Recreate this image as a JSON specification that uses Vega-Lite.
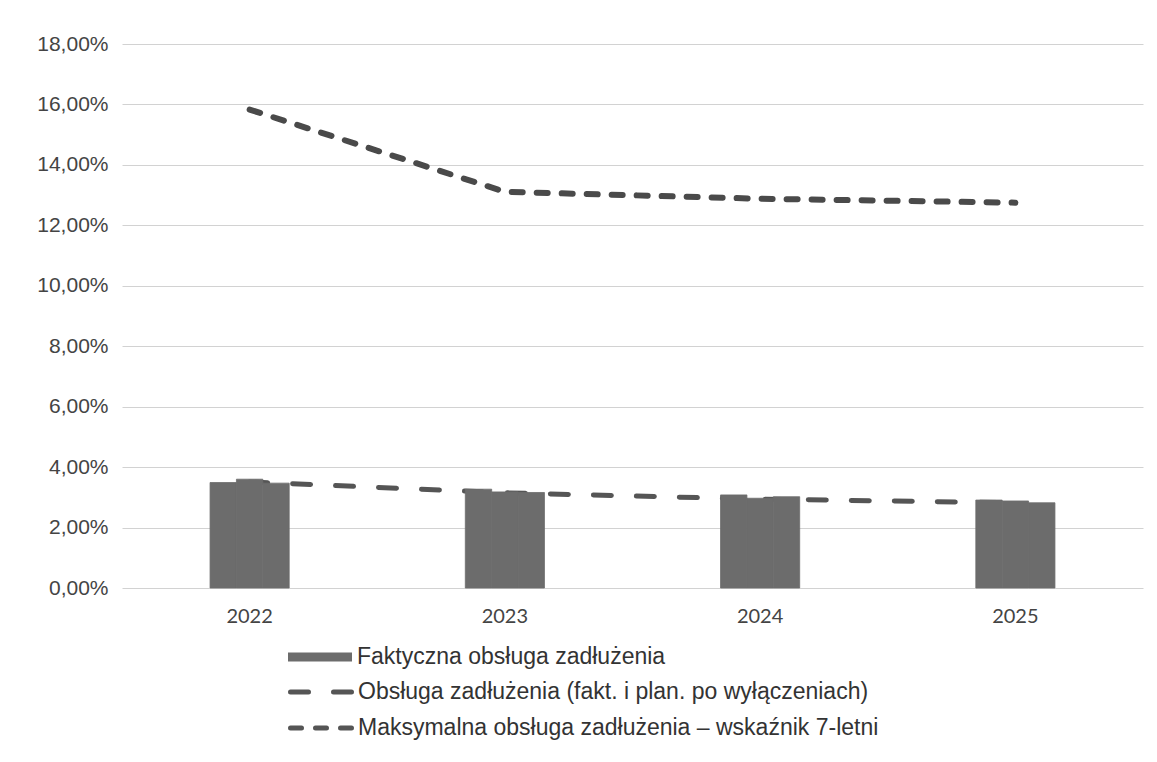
{
  "$schema": "https://vega.github.io/schema/vega-lite/v6.json",
  "width": 1021,
  "height": 544,
  "autosize": {"type": "none"},
  "padding": {"left": 122, "top": 44, "right": 14, "bottom": 174},
  "background": "white",
  "config": {"view": {"stroke": null}, "font": "Liberation Sans"},
  "datasets": {
    "bars": [
      {"year": "2022", "part": "a", "value": 3.49, "series": "Faktyczna obsługa zadłużenia"},
      {"year": "2022", "part": "b", "value": 3.60, "series": "Faktyczna obsługa zadłużenia"},
      {"year": "2022", "part": "c", "value": 3.47, "series": "Faktyczna obsługa zadłużenia"},
      {"year": "2023", "part": "a", "value": 3.27, "series": "Faktyczna obsługa zadłużenia"},
      {"year": "2023", "part": "b", "value": 3.18, "series": "Faktyczna obsługa zadłużenia"},
      {"year": "2023", "part": "c", "value": 3.16, "series": "Faktyczna obsługa zadłużenia"},
      {"year": "2024", "part": "a", "value": 3.08, "series": "Faktyczna obsługa zadłużenia"},
      {"year": "2024", "part": "b", "value": 2.97, "series": "Faktyczna obsługa zadłużenia"},
      {"year": "2024", "part": "c", "value": 3.02, "series": "Faktyczna obsługa zadłużenia"},
      {"year": "2025", "part": "a", "value": 2.91, "series": "Faktyczna obsługa zadłużenia"},
      {"year": "2025", "part": "b", "value": 2.88, "series": "Faktyczna obsługa zadłużenia"},
      {"year": "2025", "part": "c", "value": 2.82, "series": "Faktyczna obsługa zadłużenia"}
    ],
    "plan": [
      {"year": "2022", "value": 3.51, "series": "Obsługa zadłużenia (fakt. i plan. po wyłączeniach)"},
      {"year": "2023", "value": 3.15, "series": "Obsługa zadłużenia (fakt. i plan. po wyłączeniach)"},
      {"year": "2024", "value": 2.94, "series": "Obsługa zadłużenia (fakt. i plan. po wyłączeniach)"},
      {"year": "2025", "value": 2.82, "series": "Obsługa zadłużenia (fakt. i plan. po wyłączeniach)"}
    ],
    "maxi": [
      {"year": "2022", "value": 15.83, "series": "Maksymalna obsługa zadłużenia – wskaźnik 7-letni"},
      {"year": "2023", "value": 13.11, "series": "Maksymalna obsługa zadłużenia – wskaźnik 7-letni"},
      {"year": "2024", "value": 12.88, "series": "Maksymalna obsługa zadłużenia – wskaźnik 7-letni"},
      {"year": "2025", "value": 12.75, "series": "Maksymalna obsługa zadłużenia – wskaźnik 7-letni"}
    ]
  },
  "encoding": {
    "x": {
      "field": "year",
      "type": "nominal",
      "scale": {"paddingInner": 0.69, "paddingOuter": 0.345},
      "axis": {
        "title": null,
        "labelAngle": 0,
        "domain": false,
        "ticks": false,
        "labelFont": "Lato",
        "labelFontSize": 20,
        "labelColor": "#444444",
        "labelPadding": 18
      }
    },
    "y": {
      "field": "value",
      "type": "quantitative",
      "scale": {"domain": [0, 18], "nice": false},
      "axis": {
        "title": null,
        "values": [0, 2, 4, 6, 8, 10, 12, 14, 16, 18],
        "labelExpr": "replace(format(datum.value, '.2f'), '.', ',') + '%'",
        "domain": false,
        "ticks": false,
        "grid": true,
        "gridColor": "#d2d2d2",
        "gridWidth": 1,
        "labelFont": "Liberation Sans",
        "labelFontSize": 21,
        "labelColor": "#444444",
        "labelPadding": 14
      }
    }
  },
  "layer": [
    {
      "data": {"name": "plan"},
      "mark": {"type": "line", "strokeWidth": 5, "strokeCap": "round", "color": "#555555"},
      "encoding": {
        "strokeDash": {
          "field": "series",
          "type": "nominal",
          "scale": {
            "domain": ["Obsługa zadłużenia (fakt. i plan. po wyłączeniach)", "Maksymalna obsługa zadłużenia – wskaźnik 7-letni"],
            "range": [[18, 25], [11, 14]]
          },
          "legend": {
            "orient": "none",
            "legendX": 166,
            "legendY": 637,
            "direction": "vertical",
            "title": null,
            "padding": 0,
            "symbolType": "stroke",
            "symbolSize": 4096,
            "symbolStrokeWidth": 5,
            "symbolStrokeColor": "#555555",
            "clipHeight": 22,
            "rowPadding": 13,
            "labelOffset": 1,
            "labelFont": "Liberation Sans",
            "labelFontSize": 23,
            "labelColor": "#333333",
            "labelLimit": 0,
            "encode": {"symbols": {"update": {"strokeCap": {"value": "round"}}}}
          }
        }
      }
    },
    {
      "data": {"name": "bars"},
      "mark": {"type": "bar", "stroke": "#6c6c6c", "strokeWidth": 0.8},
      "encoding": {
        "xOffset": {"field": "part", "type": "nominal", "scale": {"paddingInner": 0, "paddingOuter": 0}},
        "color": {
          "field": "series",
          "type": "nominal",
          "scale": {"domain": ["Faktyczna obsługa zadłużenia"], "range": ["#6c6c6c"]},
          "legend": {
            "orient": "none",
            "legendX": 166,
            "legendY": 602,
            "direction": "vertical",
            "title": null,
            "padding": 0,
            "symbolType": "M-1,-0.14L1,-0.14L1,0.14L-1,0.14Z",
            "symbolSize": 4096,
            "symbolStrokeWidth": 0,
            "symbolFillColor": "#777777",
            "clipHeight": 22,
            "rowPadding": 13,
            "labelOffset": 5,
            "labelFont": "Liberation Sans",
            "labelFontSize": 23,
            "labelColor": "#333333",
            "labelLimit": 0
          }
        }
      }
    },
    {
      "data": {"name": "maxi"},
      "mark": {"type": "line", "strokeWidth": 6, "strokeCap": "round", "color": "#4a4a4a"},
      "encoding": {
        "strokeDash": {
          "field": "series",
          "type": "nominal",
          "scale": {
            "domain": ["Obsługa zadłużenia (fakt. i plan. po wyłączeniach)", "Maksymalna obsługa zadłużenia – wskaźnik 7-letni"],
            "range": [[18, 25], [11, 14]]
          }
        }
      }
    }
  ]
}
